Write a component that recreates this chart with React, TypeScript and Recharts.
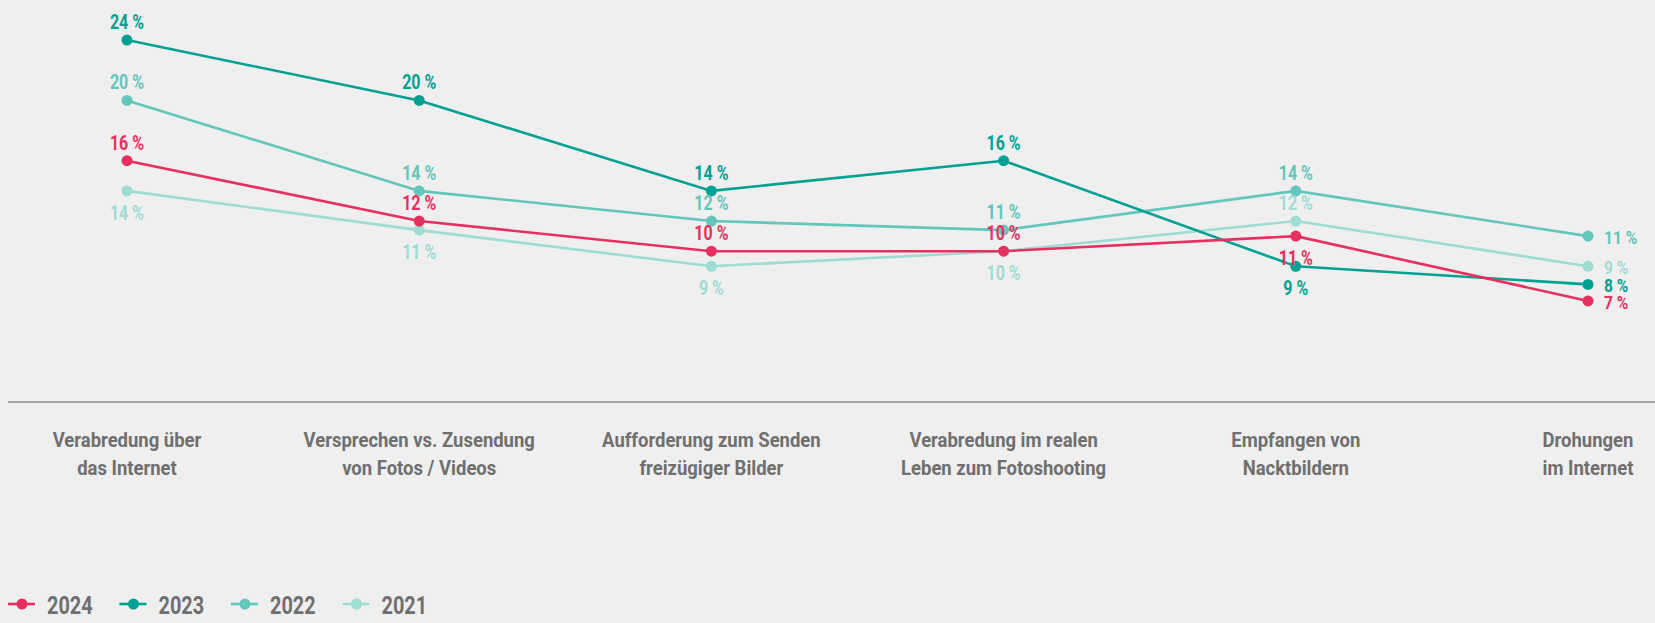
import React from "react";
import { LineChart, Line, XAxis, YAxis, LabelList } from "recharts";

const categories = [
  "Verabredung über\ndas Internet",
  "Versprechen vs. Zusendung\nvon Fotos / Videos",
  "Aufforderung zum Senden\nfreizügiger Bilder",
  "Verabredung im realen\nLeben zum Fotoshooting",
  "Empfangen von\nNacktbildern",
  "Drohungen\nim Internet",
];

const values2024 = [16, 12, 10, 10, 11, 6.7];
const values2023 = [24, 20, 14, 16, 9, 7.8];
const values2022 = [20, 14, 12, 11.4, 14, 11];
const values2021 = [14, 11.4, 9, 10, 12, 9];

const FONT = "Roboto, sans-serif";
const GREY = "#6f6f6f";

// where each value label sits relative to its dot
type Place = "top" | "bottom" | "right";
const series: { key: string; name: string; color: string; place: Place[] }[] = [
  { key: "y2021", name: "2021", color: "#9edcd5", place: ["bottom", "bottom", "bottom", "bottom", "top", "right"] },
  { key: "y2022", name: "2022", color: "#62c6bb", place: ["top", "top", "top", "top", "top", "right"] },
  { key: "y2023", name: "2023", color: "#00a193", place: ["top", "top", "top", "top", "bottom", "right"] },
  { key: "y2024", name: "2024", color: "#e8305f", place: ["top", "top", "top", "top", "bottom", "right"] },
];

const data = categories.map((name, i) => ({
  name,
  y2024: values2024[i],
  y2023: values2023[i],
  y2022: values2022[i],
  y2021: values2021[i],
}));

// condensed look: squeeze text horizontally
function NarrowText({ x, y, sx, anchor, children, ...rest }: any) {
  return (
    <text
      transform={`translate(${x},${y}) scale(${sx},1)`}
      x={0}
      y={0}
      textAnchor={anchor}
      fontFamily={FONT}
      fontWeight={700}
      {...rest}
    >
      {children}
    </text>
  );
}

function makeLabel(color: string, place: Place[]) {
  return (props: any) => {
    const { x, y, value, index } = props;
    const p = place[index];
    const text = `${Math.round(Number(value))} %`;
    if (p === "right") {
      return (
        <NarrowText x={x + 16} y={y + 8} sx={0.82} anchor="start" fill={color} fontSize={19}>
          {text}
        </NarrowText>
      );
    }
    const ty = p === "top" ? y - 11 : y + 29;
    return (
      <NarrowText x={x} y={ty} sx={0.82} anchor="middle" fill={color} fontSize={19.5}>
        {text}
      </NarrowText>
    );
  };
}

function CategoryTick({ x, y, payload }: any) {
  const lines = String(payload.value).split("\n");
  return (
    <NarrowText x={x} y={y} sx={0.88} anchor="middle" fill={GREY} fontSize={21}>
      {lines.map((l, i) => (
        <tspan key={i} x={0} dy={i === 0 ? 37 : 28}>
          {l}
        </tspan>
      ))}
    </NarrowText>
  );
}

const legendOrder = ["y2024", "y2023", "y2022", "y2021"];

export default function App() {
  return (
    <div style={{ position: "absolute", left: 0, top: 0, width: 1655, height: 623, background: "#efefef", overflow: "hidden" }}>
      <LineChart width={1655} height={623} data={data} margin={{ top: 25, right: 0, bottom: 121, left: 8 }}>
        <YAxis hide domain={[0, 25]} />
        <XAxis
          dataKey="name"
          scale="point"
          padding={{ left: 119, right: 67 }}
          axisLine={{ stroke: "#8c8c8c", strokeWidth: 1.5 }}
          tickLine={false}
          interval={0}
          height={100}
          tick={<CategoryTick />}
        />
        {series.map((s) => (
          <Line
            key={s.key}
            dataKey={s.key}
            name={s.name}
            stroke={s.color}
            strokeWidth={2.6}
            dot={{ r: 5.5, fill: s.color, stroke: s.color, strokeWidth: 0 }}
            activeDot={false}
            isAnimationActive={false}
          >
            <LabelList dataKey={s.key} content={makeLabel(s.color, s.place)} />
          </Line>
        ))}
      </LineChart>
      <svg width={460} height={40} style={{ position: "absolute", left: 0, top: 585 }}>
        {legendOrder.map((k, i) => {
          const s = series.find((x) => x.key === k)!;
          const x0 = 8 + i * 111.5;
          return (
            <g key={k}>
              <line x1={x0} y1={19} x2={x0 + 27} y2={19} stroke={s.color} strokeWidth={2.6} />
              <circle cx={x0 + 14} cy={19} r={5.5} fill={s.color} />
              <NarrowText x={x0 + 39} y={28.5} sx={0.75} anchor="start" fill={GREY} fontSize={26.5}>
                {s.name}
              </NarrowText>
            </g>
          );
        })}
      </svg>
    </div>
  );
}
